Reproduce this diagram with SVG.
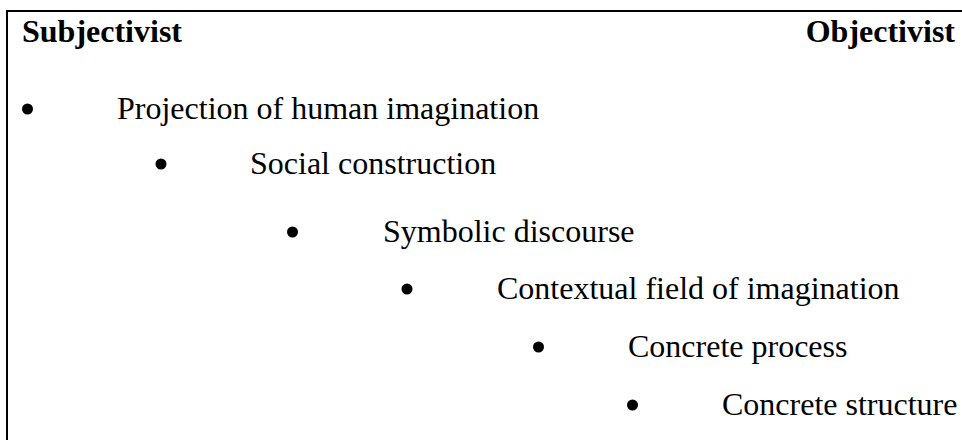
<svg xmlns="http://www.w3.org/2000/svg" width="962" height="440" viewBox="0 0 962 440">
<style>
.frame{stroke:#000;stroke-width:2;fill:none}
.hd{font-family:"Liberation Serif","Times New Roman",serif;font-size:32px;font-weight:bold;fill:#000}
.it{font-family:"Liberation Serif","Times New Roman",serif;font-size:32px;fill:#000}
.bu{fill:#000}
</style>
<rect width="962" height="440" fill="#fff"/>
<g id="frame">
<line class="frame" x1="7" y1="11" x2="962" y2="11"/>
<line class="frame" x1="7" y1="10" x2="7" y2="440"/>
</g>
<g id="header">
<text class="hd" x="22" y="42">Subjectivist</text>
<text class="hd" x="955" y="42" text-anchor="end">Objectivist</text>
</g>
<g id="item1"><circle class="bu" cx="27.5" cy="109" r="5.5"/><text class="it" x="117" y="119">Projection of human imagination</text></g>
<g id="item2"><circle class="bu" cx="161" cy="164" r="5.5"/><text class="it" x="250" y="174">Social construction</text></g>
<g id="item3"><circle class="bu" cx="292.5" cy="232" r="5.5"/><text class="it" x="383" y="242">Symbolic discourse</text></g>
<g id="item4"><circle class="bu" cx="407" cy="289" r="5.5"/><text class="it" x="497" y="299">Contextual field of imagination</text></g>
<g id="item5"><circle class="bu" cx="538.5" cy="347" r="5.5"/><text class="it" x="628" y="357">Concrete process</text></g>
<g id="item6"><circle class="bu" cx="632.5" cy="405" r="5.5"/><text class="it" x="722" y="415">Concrete structure</text></g>
<g id="connectors"></g>
</svg>
